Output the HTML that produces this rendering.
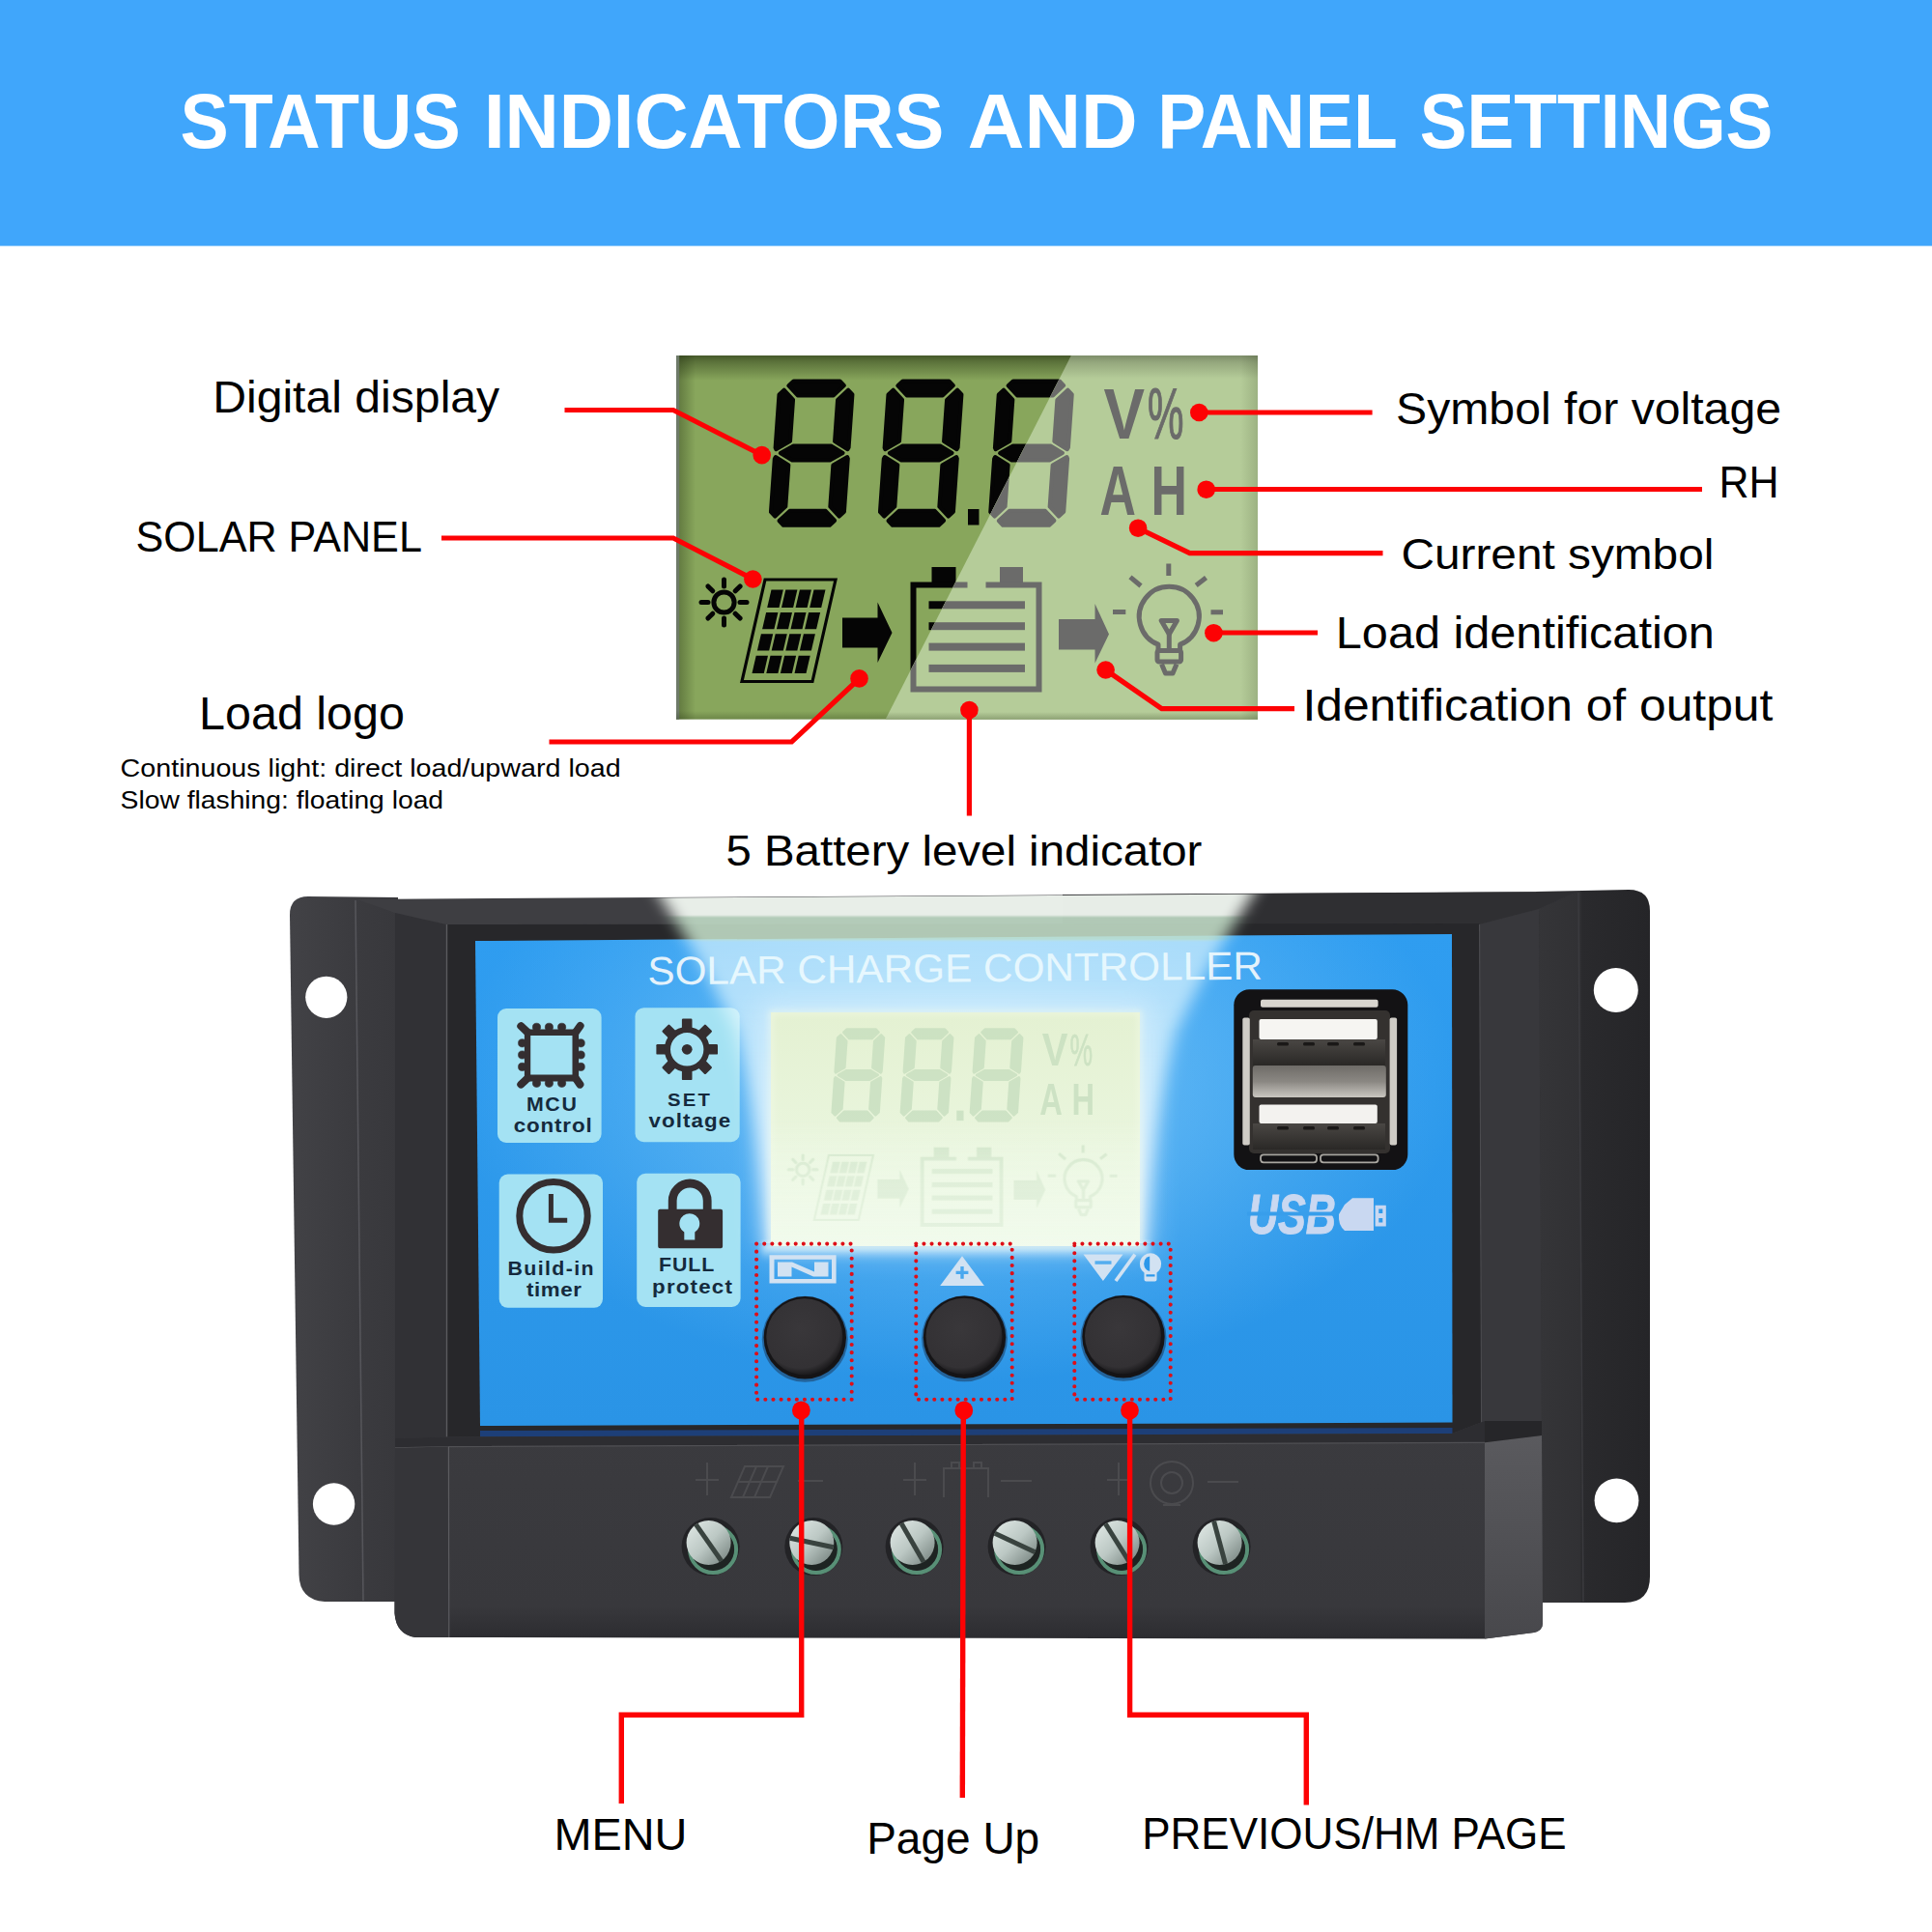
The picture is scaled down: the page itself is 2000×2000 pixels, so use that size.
<!DOCTYPE html>
<html lang="en"><head><meta charset="utf-8"><title>Status indicators and panel settings</title>
<style>html,body{margin:0;padding:0;background:#fff}body{width:2000px;height:2000px;overflow:hidden}svg{display:block}text{font-family:"Liberation Sans",sans-serif}</style>
</head><body>
<svg width="2000" height="2000" viewBox="0 0 2000 2000">
<defs>
<linearGradient id="lcdEdge" x1="0" y1="0" x2="0" y2="1"><stop offset="0" stop-color="#4f6332"/><stop offset="1" stop-color="#88a65c"/></linearGradient>
<filter id="blur8" x="-20%" y="-20%" width="140%" height="140%"><feGaussianBlur stdDeviation="8"/></filter><filter id="blurH" x="-10%" y="-5%" width="120%" height="110%"><feGaussianBlur stdDeviation="9 0.6"/></filter>
<filter id="blur14" x="-20%" y="-20%" width="140%" height="140%"><feGaussianBlur stdDeviation="14"/></filter>
<filter id="blur3" x="-20%" y="-20%" width="140%" height="140%"><feGaussianBlur stdDeviation="3"/></filter>
<clipPath id="lcdClip"><rect x="700" y="368" width="602" height="376"/></clipPath>
<clipPath id="glareClip"><polygon points="1109,368 1302,368 1302,745 916.5,745"/></clipPath>
<clipPath id="darkClip"><polygon points="700,368 1109,368 916.5,745 700,745"/></clipPath>
</defs>
<rect x="0" y="0" width="2000" height="254.600" fill="#40a6fb"/>
<text y="153.4" font-size="79.3" font-weight="bold" fill="#fff"><tspan x="186.6" textLength="290.1" lengthAdjust="spacingAndGlyphs">STATUS</tspan> <tspan x="500.9" textLength="476.6" lengthAdjust="spacingAndGlyphs">INDICATORS</tspan> <tspan x="1001.8" textLength="175.9" lengthAdjust="spacingAndGlyphs">AND</tspan> <tspan x="1198.2" textLength="247.3" lengthAdjust="spacingAndGlyphs">PANEL</tspan> <tspan x="1469.8" textLength="365.6" lengthAdjust="spacingAndGlyphs">SETTINGS</tspan></text>
<g id="biglcd">
<rect x="700" y="368" width="602" height="376.6" fill="#88a65c"/>
<defs><linearGradient id="shT" x1="0" y1="0" x2="0" y2="1"><stop offset="0" stop-color="#1d2a0c" stop-opacity="0.62"/><stop offset="0.25" stop-color="#1d2a0c" stop-opacity="0.42"/><stop offset="1" stop-color="#1d2a0c" stop-opacity="0"/></linearGradient><linearGradient id="shL" x1="0" y1="0" x2="1" y2="0"><stop offset="0" stop-color="#1d2a0c" stop-opacity="0.4"/><stop offset="1" stop-color="#1d2a0c" stop-opacity="0"/></linearGradient><linearGradient id="shR" x1="1" y1="0" x2="0" y2="0"><stop offset="0" stop-color="#1d2a0c" stop-opacity="0.16"/><stop offset="1" stop-color="#1d2a0c" stop-opacity="0"/></linearGradient><linearGradient id="shB" x1="0" y1="1" x2="0" y2="0"><stop offset="0" stop-color="#1d2a0c" stop-opacity="0.25"/><stop offset="1" stop-color="#1d2a0c" stop-opacity="0"/></linearGradient></defs>
<rect x="700" y="368" width="602" height="26" fill="url(#shT)"/>
<rect x="700" y="368" width="20" height="376.6" fill="url(#shL)"/>
<rect x="700" y="368" width="3.2" height="376.6" fill="#6e7a69"/>
<rect x="700" y="736" width="602" height="8.6" fill="url(#shB)"/>
<g clip-path="url(#darkClip)"><g><title>88.8</title><g transform="translate(840.2,469.09999999999997) skewX(-4) translate(-38.0,-74.7)" fill="#050505" stroke="#050505" stroke-width="4" stroke-linejoin="round"><polygon points="14,0 62,0 66.8,4.8 56.6,15 19.4,15 9.2,4.8"/><polygon points="76,14 71.2,9.2 61,19.4 61,62.4 75.1,70.8 76,69.0"/><polygon points="76,135.4 71.2,140.2 61,130.0 61,87.0 75.1,78.6 76,80.4"/><polygon points="14,149.4 62,149.4 66.8,144.6 56.6,134.4 19.4,134.4 9.2,144.6"/><polygon points="0,135.4 4.8,140.2 15,130.0 15,87.0 0.9,78.6 0,80.4"/><polygon points="0,14 4.8,9.2 15,19.4 15,62.4 0.9,70.8 0,69.0"/><polygon points="5.6,74.7 18.5,67.2 57.5,67.2 70.4,74.7 57.5,82.2 18.5,82.2"/></g><g transform="translate(953.2,469.09999999999997) skewX(-4) translate(-38.0,-74.7)" fill="#050505" stroke="#050505" stroke-width="4" stroke-linejoin="round"><polygon points="14,0 62,0 66.8,4.8 56.6,15 19.4,15 9.2,4.8"/><polygon points="76,14 71.2,9.2 61,19.4 61,62.4 75.1,70.8 76,69.0"/><polygon points="76,135.4 71.2,140.2 61,130.0 61,87.0 75.1,78.6 76,80.4"/><polygon points="14,149.4 62,149.4 66.8,144.6 56.6,134.4 19.4,134.4 9.2,144.6"/><polygon points="0,135.4 4.8,140.2 15,130.0 15,87.0 0.9,78.6 0,80.4"/><polygon points="0,14 4.8,9.2 15,19.4 15,62.4 0.9,70.8 0,69.0"/><polygon points="5.6,74.7 18.5,67.2 57.5,67.2 70.4,74.7 57.5,82.2 18.5,82.2"/></g><g transform="translate(1067.5,469.09999999999997) skewX(-4) translate(-38.0,-74.7)" fill="#050505" stroke="#050505" stroke-width="4" stroke-linejoin="round"><polygon points="14,0 62,0 66.8,4.8 56.6,15 19.4,15 9.2,4.8"/><polygon points="76,14 71.2,9.2 61,19.4 61,62.4 75.1,70.8 76,69.0"/><polygon points="76,135.4 71.2,140.2 61,130.0 61,87.0 75.1,78.6 76,80.4"/><polygon points="14,149.4 62,149.4 66.8,144.6 56.6,134.4 19.4,134.4 9.2,144.6"/><polygon points="0,135.4 4.8,140.2 15,130.0 15,87.0 0.9,78.6 0,80.4"/><polygon points="0,14 4.8,9.2 15,19.4 15,62.4 0.9,70.8 0,69.0"/><polygon points="5.6,74.7 18.5,67.2 57.5,67.2 70.4,74.7 57.5,82.2 18.5,82.2"/></g><rect x="1002" y="527" width="11.5" height="16.5" fill="#050505"/></g><g fill="#050505" font-weight="bold"><text x="1142.5" y="453.5" font-size="75"><tspan textLength="42.5" lengthAdjust="spacingAndGlyphs">V</tspan><tspan x="1188" font-size="74" font-weight="normal" textLength="37.5" lengthAdjust="spacingAndGlyphs" stroke="#050505" stroke-width="1.2">%</tspan></text><text transform="translate(1138.5,533.2) scale(0.72,1)" font-size="72" letter-spacing="21.5">AH</text></g><g stroke="#050505" stroke-width="5" fill="none" stroke-linecap="round"><circle cx="749.5" cy="623.5" r="10.6"/><line x1="766.0" y1="623.5" x2="773.0" y2="623.5"/><line x1="761.2" y1="635.2" x2="766.1" y2="640.1"/><line x1="749.5" y1="640.0" x2="749.5" y2="647.0"/><line x1="737.8" y1="635.2" x2="732.9" y2="640.1"/><line x1="733.0" y1="623.5" x2="726.0" y2="623.5"/><line x1="737.8" y1="611.8" x2="732.9" y2="606.9"/><line x1="749.5" y1="607.0" x2="749.5" y2="600.0"/><line x1="761.2" y1="611.8" x2="766.1" y2="606.9"/></g><polygon points="792,600 865,600 841,705.5 768,705.5" fill="none" stroke="#050505" stroke-width="3.2"/><g fill="#050505"><polygon points="798.5,610.5 810.8,610.5 806.5,629.1 794.2,629.1"/><polygon points="813.3,610.5 825.4,610.5 821.1,629.1 809.0,629.1"/><polygon points="827.9,610.5 839.9,610.5 835.6,629.1 823.6,629.1"/><polygon points="842.5,610.5 854.5,610.5 850.2,629.1 838.2,629.1"/><polygon points="793.1,633.9 805.4,633.9 801.4,651.2 789.1,651.2"/><polygon points="807.9,633.9 820.0,633.9 816.0,651.2 803.9,651.2"/><polygon points="822.5,633.9 834.5,633.9 830.5,651.2 818.5,651.2"/><polygon points="837.1,633.9 849.1,633.9 845.1,651.2 833.1,651.2"/><polygon points="787.9,656.3 800.2,656.3 796.2,673.6 783.9,673.6"/><polygon points="802.7,656.3 814.8,656.3 810.8,673.6 798.7,673.6"/><polygon points="817.3,656.3 829.3,656.3 825.3,673.6 813.3,673.6"/><polygon points="831.9,656.3 843.9,656.3 839.9,673.6 827.9,673.6"/><polygon points="782.7,678.8 795.0,678.8 790.8,697.0 778.5,697.0"/><polygon points="797.5,678.8 809.6,678.8 805.4,697.0 793.3,697.0"/><polygon points="812.1,678.8 824.1,678.8 819.9,697.0 807.9,697.0"/><polygon points="826.7,678.8 838.7,678.8 834.5,697.0 822.5,697.0"/></g><polygon points="872,639.5 908.5,639.5 908.5,623.5 923.5,655 908.5,686 908.5,670.5 872,670.5" fill="#050505"/><g fill="#050505"><rect x="964.5" y="587" width="25" height="16"/><rect x="1035" y="587" width="24" height="16"/><path d="M942.5 602.5 H1001.5 V608.5 H948.5 V710.5 H1072.5 V608.5 H1020.5 V602.5 H1078.5 V716.5 H942.5 Z"/><rect x="961.5" y="622.3" width="99.5" height="8"/><rect x="961.5" y="644.2" width="99.5" height="8"/><rect x="961.5" y="665.6" width="99.5" height="8"/><rect x="961.5" y="687.9" width="99.5" height="8"/></g><polygon points="1096,641 1133.5,641 1133.5,625 1148,656.5 1133.5,686.5 1133.5,672.5 1096,672.5" fill="#050505"/><g stroke="#050505" stroke-width="5" fill="none" stroke-linecap="butt" stroke-linejoin="round"><path d="M1199 673 V667.2 A31 31 0 1 1 1221.6 667.2 V673"/><path d="M1202.2 642.5 H1218.400 L1210.3 656.5 Z"/><line x1="1210.3" y1="656" x2="1210.3" y2="672"/><rect x="1198" y="673.5" width="24.6" height="11.5" rx="2"/><path d="M1202.500 687.5 L1206.500 697 H1214 L1218 687.5"/><line x1="1209.800" y1="583.5" x2="1209.800" y2="596"/><line x1="1170" y1="597.3" x2="1181" y2="606.5"/><line x1="1248.500" y1="598" x2="1238.200" y2="606"/><line x1="1152" y1="633.5" x2="1165.300" y2="633.5"/><line x1="1253.500" y1="633.8" x2="1266" y2="633.8"/></g></g>
<g clip-path="url(#glareClip)">
<rect x="900" y="368" width="402" height="376.6" fill="#b5cc99"/>
<defs><linearGradient id="shT2" x1="0" y1="0" x2="0" y2="1"><stop offset="0" stop-color="#59644a" stop-opacity="0.6"/><stop offset="0.3" stop-color="#59644a" stop-opacity="0.35"/><stop offset="1" stop-color="#59644a" stop-opacity="0"/></linearGradient></defs>
<rect x="900" y="368" width="402" height="24" fill="url(#shT2)"/>
<rect x="1284" y="368" width="18" height="376.6" fill="url(#shR)"/>
<rect x="900" y="737" width="402" height="7.6" fill="url(#shB)"/>
<g><title>88.8</title><g transform="translate(840.2,469.09999999999997) skewX(-4) translate(-38.0,-74.7)" fill="#6b6b6a" stroke="#6b6b6a" stroke-width="4" stroke-linejoin="round"><polygon points="14,0 62,0 66.8,4.8 56.6,15 19.4,15 9.2,4.8"/><polygon points="76,14 71.2,9.2 61,19.4 61,62.4 75.1,70.8 76,69.0"/><polygon points="76,135.4 71.2,140.2 61,130.0 61,87.0 75.1,78.6 76,80.4"/><polygon points="14,149.4 62,149.4 66.8,144.6 56.6,134.4 19.4,134.4 9.2,144.6"/><polygon points="0,135.4 4.8,140.2 15,130.0 15,87.0 0.9,78.6 0,80.4"/><polygon points="0,14 4.8,9.2 15,19.4 15,62.4 0.9,70.8 0,69.0"/><polygon points="5.6,74.7 18.5,67.2 57.5,67.2 70.4,74.7 57.5,82.2 18.5,82.2"/></g><g transform="translate(953.2,469.09999999999997) skewX(-4) translate(-38.0,-74.7)" fill="#6b6b6a" stroke="#6b6b6a" stroke-width="4" stroke-linejoin="round"><polygon points="14,0 62,0 66.8,4.8 56.6,15 19.4,15 9.2,4.8"/><polygon points="76,14 71.2,9.2 61,19.4 61,62.4 75.1,70.8 76,69.0"/><polygon points="76,135.4 71.2,140.2 61,130.0 61,87.0 75.1,78.6 76,80.4"/><polygon points="14,149.4 62,149.4 66.8,144.6 56.6,134.4 19.4,134.4 9.2,144.6"/><polygon points="0,135.4 4.8,140.2 15,130.0 15,87.0 0.9,78.6 0,80.4"/><polygon points="0,14 4.8,9.2 15,19.4 15,62.4 0.9,70.8 0,69.0"/><polygon points="5.6,74.7 18.5,67.2 57.5,67.2 70.4,74.7 57.5,82.2 18.5,82.2"/></g><g transform="translate(1067.5,469.09999999999997) skewX(-4) translate(-38.0,-74.7)" fill="#6b6b6a" stroke="#6b6b6a" stroke-width="4" stroke-linejoin="round"><polygon points="14,0 62,0 66.8,4.8 56.6,15 19.4,15 9.2,4.8"/><polygon points="76,14 71.2,9.2 61,19.4 61,62.4 75.1,70.8 76,69.0"/><polygon points="76,135.4 71.2,140.2 61,130.0 61,87.0 75.1,78.6 76,80.4"/><polygon points="14,149.4 62,149.4 66.8,144.6 56.6,134.4 19.4,134.4 9.2,144.6"/><polygon points="0,135.4 4.8,140.2 15,130.0 15,87.0 0.9,78.6 0,80.4"/><polygon points="0,14 4.8,9.2 15,19.4 15,62.4 0.9,70.8 0,69.0"/><polygon points="5.6,74.7 18.5,67.2 57.5,67.2 70.4,74.7 57.5,82.2 18.5,82.2"/></g><rect x="1002" y="527" width="11.5" height="16.5" fill="#6b6b6a"/></g><g fill="#6b6b6a" font-weight="bold"><text x="1142.5" y="453.5" font-size="75"><tspan textLength="42.5" lengthAdjust="spacingAndGlyphs">V</tspan><tspan x="1188" font-size="74" font-weight="normal" textLength="37.5" lengthAdjust="spacingAndGlyphs" stroke="#6b6b6a" stroke-width="1.2">%</tspan></text><text transform="translate(1138.5,533.2) scale(0.72,1)" font-size="72" letter-spacing="21.5">AH</text></g><g stroke="#6b6b6a" stroke-width="5" fill="none" stroke-linecap="round"><circle cx="749.5" cy="623.5" r="10.6"/><line x1="766.0" y1="623.5" x2="773.0" y2="623.5"/><line x1="761.2" y1="635.2" x2="766.1" y2="640.1"/><line x1="749.5" y1="640.0" x2="749.5" y2="647.0"/><line x1="737.8" y1="635.2" x2="732.9" y2="640.1"/><line x1="733.0" y1="623.5" x2="726.0" y2="623.5"/><line x1="737.8" y1="611.8" x2="732.9" y2="606.9"/><line x1="749.5" y1="607.0" x2="749.5" y2="600.0"/><line x1="761.2" y1="611.8" x2="766.1" y2="606.9"/></g><polygon points="792,600 865,600 841,705.5 768,705.5" fill="none" stroke="#6b6b6a" stroke-width="3.2"/><g fill="#6b6b6a"><polygon points="798.5,610.5 810.8,610.5 806.5,629.1 794.2,629.1"/><polygon points="813.3,610.5 825.4,610.5 821.1,629.1 809.0,629.1"/><polygon points="827.9,610.5 839.9,610.5 835.6,629.1 823.6,629.1"/><polygon points="842.5,610.5 854.5,610.5 850.2,629.1 838.2,629.1"/><polygon points="793.1,633.9 805.4,633.9 801.4,651.2 789.1,651.2"/><polygon points="807.9,633.9 820.0,633.9 816.0,651.2 803.9,651.2"/><polygon points="822.5,633.9 834.5,633.9 830.5,651.2 818.5,651.2"/><polygon points="837.1,633.9 849.1,633.9 845.1,651.2 833.1,651.2"/><polygon points="787.9,656.3 800.2,656.3 796.2,673.6 783.9,673.6"/><polygon points="802.7,656.3 814.8,656.3 810.8,673.6 798.7,673.6"/><polygon points="817.3,656.3 829.3,656.3 825.3,673.6 813.3,673.6"/><polygon points="831.9,656.3 843.9,656.3 839.9,673.6 827.9,673.6"/><polygon points="782.7,678.8 795.0,678.8 790.8,697.0 778.5,697.0"/><polygon points="797.5,678.8 809.6,678.8 805.4,697.0 793.3,697.0"/><polygon points="812.1,678.8 824.1,678.8 819.9,697.0 807.9,697.0"/><polygon points="826.7,678.8 838.7,678.8 834.5,697.0 822.5,697.0"/></g><polygon points="872,639.5 908.5,639.5 908.5,623.5 923.5,655 908.5,686 908.5,670.5 872,670.5" fill="#6b6b6a"/><g fill="#6b6b6a"><rect x="964.5" y="587" width="25" height="16"/><rect x="1035" y="587" width="24" height="16"/><path d="M942.5 602.5 H1001.5 V608.5 H948.5 V710.5 H1072.5 V608.5 H1020.5 V602.5 H1078.5 V716.5 H942.5 Z"/><rect x="961.5" y="622.3" width="99.5" height="8"/><rect x="961.5" y="644.2" width="99.5" height="8"/><rect x="961.5" y="665.6" width="99.5" height="8"/><rect x="961.5" y="687.9" width="99.5" height="8"/></g><polygon points="1096,641 1133.5,641 1133.5,625 1148,656.5 1133.5,686.5 1133.5,672.5 1096,672.5" fill="#6b6b6a"/><g stroke="#6b6b6a" stroke-width="5" fill="none" stroke-linecap="butt" stroke-linejoin="round"><path d="M1199 673 V667.2 A31 31 0 1 1 1221.6 667.2 V673"/><path d="M1202.2 642.5 H1218.400 L1210.3 656.5 Z"/><line x1="1210.3" y1="656" x2="1210.3" y2="672"/><rect x="1198" y="673.5" width="24.6" height="11.5" rx="2"/><path d="M1202.500 687.5 L1206.500 697 H1214 L1218 687.5"/><line x1="1209.800" y1="583.5" x2="1209.800" y2="596"/><line x1="1170" y1="597.3" x2="1181" y2="606.5"/><line x1="1248.500" y1="598" x2="1238.200" y2="606"/><line x1="1152" y1="633.5" x2="1165.300" y2="633.5"/><line x1="1253.500" y1="633.8" x2="1266" y2="633.8"/></g>
</g>
</g>
<g fill="none" stroke="#fd0204" stroke-width="5.2" stroke-linejoin="miter">
<polyline points="584.5,424.5 697,424.5 788.5,471"/>
<polyline points="457,557 697,557 779.5,599.5"/>
<polyline points="568.5,768 819.5,768 889.5,702.5"/>
<polyline points="1003.4,735 1003.4,844.5"/>
<polyline points="1241.3,427 1420.6,427"/>
<polyline points="1248.7,506.5 1762,506.5"/>
<polyline points="1178,546.7 1231.6,572.7 1431.5,572.7"/>
<polyline points="1256.4,655 1364,655"/>
<polyline points="1144.6,693.5 1202.6,733.6 1340,733.6"/>
</g>
<g fill="#fd0204">
<circle cx="788.7" cy="471.1" r="9.3"/>
<circle cx="779.4" cy="599.5" r="9.3"/>
<circle cx="889.5" cy="702.4" r="9.3"/>
<circle cx="1003.4" cy="735" r="9.3"/>
<circle cx="1241.3" cy="427" r="9.3"/>
<circle cx="1248.7" cy="506.7" r="9.3"/>
<circle cx="1178.1" cy="546.7" r="9.3"/>
<circle cx="1256.4" cy="655.2" r="9.3"/>
<circle cx="1144.6" cy="693.5" r="9.3"/>
</g>
<text x="220.2" y="427" font-size="47" textLength="297" lengthAdjust="spacingAndGlyphs">Digital display</text>
<text x="140.4" y="570.8" font-size="44" textLength="296.5" lengthAdjust="spacingAndGlyphs">SOLAR PANEL</text>
<text x="206" y="755" font-size="47.5" textLength="213" lengthAdjust="spacingAndGlyphs">Load logo</text>
<text x="124.6" y="803.5" font-size="26" textLength="518" lengthAdjust="spacingAndGlyphs">Continuous light: direct load/upward load</text>
<text x="124.6" y="837.2" font-size="26" textLength="334.5" lengthAdjust="spacingAndGlyphs">Slow flashing: floating load</text>
<text x="751.4" y="896.4" font-size="45" textLength="493" lengthAdjust="spacingAndGlyphs">5 Battery level indicator</text>
<text x="1445" y="439" font-size="46.5" textLength="399" lengthAdjust="spacingAndGlyphs">Symbol for voltage</text>
<text x="1779.4" y="515.4" font-size="45.5" textLength="62" lengthAdjust="spacingAndGlyphs">RH</text>
<text x="1450.4" y="589.2" font-size="44.5" textLength="324" lengthAdjust="spacingAndGlyphs">Current symbol</text>
<text x="1382.8" y="670.7" font-size="46" textLength="392" lengthAdjust="spacingAndGlyphs">Load identification</text>
<text x="1348.4" y="745.5" font-size="46" textLength="487" lengthAdjust="spacingAndGlyphs">Identification of output</text>
<text x="573.4" y="1915.3" font-size="47" textLength="138" lengthAdjust="spacingAndGlyphs">MENU</text>
<text x="897.2" y="1918.8" font-size="46" textLength="179" lengthAdjust="spacingAndGlyphs">Page Up</text>
<text x="1182.2" y="1914" font-size="47" textLength="439.5" lengthAdjust="spacingAndGlyphs">PREVIOUS/HM PAGE</text>
<defs>
<linearGradient id="flL" x1="0" y1="0" x2="1" y2="0"><stop offset="0" stop-color="#424246"/><stop offset="0.6" stop-color="#3b3b3f"/><stop offset="1" stop-color="#38383c"/></linearGradient>
<linearGradient id="flR" x1="0" y1="0" x2="1" y2="0"><stop offset="0" stop-color="#353538"/><stop offset="0.385" stop-color="#313134"/><stop offset="0.405" stop-color="#2a2a2d"/><stop offset="1" stop-color="#252528"/></linearGradient>
<linearGradient id="blueG" x1="0" y1="0" x2="0" y2="1"><stop offset="0" stop-color="#2f9df0"/><stop offset="1" stop-color="#2a94e6"/></linearGradient>
<linearGradient id="blockG" x1="0" y1="0" x2="0" y2="1"><stop offset="0" stop-color="#3b3b3f"/><stop offset="0.85" stop-color="#38383c"/><stop offset="1" stop-color="#2c2c30"/></linearGradient>
<linearGradient id="coneG" gradientUnits="userSpaceOnUse" x1="0" y1="916" x2="0" y2="1290"><stop offset="0" stop-color="#eff5ef" stop-opacity="0.96"/><stop offset="0.083" stop-color="#eff5ef" stop-opacity="0.96"/><stop offset="0.091" stop-color="#c8e4cd" stop-opacity="0.85"/><stop offset="0.150" stop-color="#c8e4cd" stop-opacity="0.85"/><stop offset="0.158" stop-color="#e6faff" stop-opacity="0.62"/><stop offset="0.45" stop-color="#ebfcff" stop-opacity="0.66"/><stop offset="1" stop-color="#f6fdff" stop-opacity="0.88"/></linearGradient>
<radialGradient id="btnG" cx="0.45" cy="0.4" r="0.6"><stop offset="0" stop-color="#39373a"/><stop offset="0.85" stop-color="#333134"/><stop offset="1" stop-color="#1c1b1d"/></radialGradient>
<clipPath id="faceClip"><polygon points="492,974 1503,967 1503.5,1472.6 497,1476"/></clipPath>
<clipPath id="devClip"><polygon points="300,931.5 369,931.5 1633,923.5 1710,923.5 1710,1700 300,1700"/></clipPath>
</defs>
<g id="device">
<path d="M300 947 Q300 928 319 928 L412 929 L412 1658 L336 1658 Q310 1656 309.5 1630 Z" fill="url(#flL)"/>
<path d="M1590 923 L1686 921 Q1708 921 1708 943 L1708 1632 Q1708 1659 1682 1659 L1590 1659 Z" fill="url(#flR)"/>
<line x1="368" y1="932" x2="376" y2="1657" stroke="#55555a" stroke-width="1.6"/>
<line x1="1634" y1="924" x2="1639" y2="1658" stroke="#3a3a3e" stroke-width="1.6"/>
<polygon points="409,945 1593,938 1596,1492 409,1494" fill="#313135"/>
<polygon points="1531,956 1593,940 1596,1480 1533,1482" fill="#38383c"/><line x1="1531.5" y1="957" x2="1533.5" y2="1482" stroke="#4c4c50" stroke-width="1.3"/>
<polygon points="369,931 1633,923 1593,941 1531,957 462,957 409,945" fill="#3e3e42"/>
<polygon points="1100,926 1633,923 1593,941 1531,957 1100,957" fill="#2f2f32"/>
<polygon points="462,957 1531,956 1533,1484 462,1488" fill="#27272a"/>
<line x1="462.5" y1="957" x2="462.5" y2="1488" stroke="#5a5a5e" stroke-width="1.4"/>
<polygon points="492,974 1503,967 1503.5,1472.6 497,1476" fill="url(#blueG)"/>
<defs><radialGradient id="faceHi" cx="990" cy="1120" r="520" gradientUnits="userSpaceOnUse" gradientTransform="translate(0,448) scale(1,0.6)"><stop offset="0" stop-color="#bfeaff" stop-opacity="0.55"/><stop offset="0.55" stop-color="#9fdcff" stop-opacity="0.28"/><stop offset="1" stop-color="#8fd4ff" stop-opacity="0"/></radialGradient></defs>
<polygon points="492,974 1503,967 1503.5,1472.6 497,1476" fill="url(#faceHi)"/>
<polygon points="497,1481 1503.5,1478 1503.5,1489 497,1493" fill="#1d3f78"/>
<path d="M409 1489 L462 1487.5 L1503 1484 L1537 1471 L1596 1471 L1597 1680 Q1597 1688 1588 1690 L1537 1696.5 L430 1695 Q410 1692 408.5 1670 Z" fill="url(#blockG)"/>
<polygon points="409,1489 462,1487.5 1503,1484 1537,1471 1596,1471 1596,1486 1537,1493.3 464,1497.6 409,1499" fill="#2d2d31"/><polyline points="409,1499 464,1497.6 1537,1493.3 1596,1486" fill="none" stroke="#505054" stroke-width="1.4"/>
<defs><linearGradient id="blkR" x1="0" y1="0" x2="0" y2="1"><stop offset="0" stop-color="#5a5a5e"/><stop offset="1" stop-color="#48484c"/></linearGradient></defs><path d="M1537 1493.3 L1596 1486 L1597 1680 Q1597 1688 1588 1690 L1537 1696.5 Z" fill="url(#blkR)"/><polygon points="1537,1471 1596,1471 1596,1486 1537,1493.3" fill="#262629"/>
<path d="M409 1499 L464 1497.6 L464.8 1695 L430 1695 Q410 1692 408.5 1670 Z" fill="#353539"/><line x1="464.4" y1="1498" x2="464.8" y2="1695" stroke="#5c5c60" stroke-width="1.2"/>
<circle cx="337.8" cy="1032.3" r="21.6" fill="#fff"/>
<circle cx="345.6" cy="1557" r="21.7" fill="#fff"/>
<circle cx="1672.8" cy="1024.9" r="23" fill="#fff"/>
<circle cx="1673.5" cy="1553.3" r="22.9" fill="#fff"/>
</g>
<g id="face">
<g transform="rotate(-0.5 671 1019.2)"><text x="670.5" y="1019.2" font-size="41" textLength="636.5" lengthAdjust="spacingAndGlyphs" fill="#e4f2fb">SOLAR CHARGE CONTROLLER</text></g>
<rect x="515" y="1044" width="107.6" height="139.0" rx="9" fill="#a4e2f3"/>
<rect x="657.5" y="1043.2" width="108.2" height="139.0" rx="9" fill="#a4e2f3"/>
<rect x="516.7" y="1215.6" width="107.3" height="138.2" rx="9" fill="#a4e2f3"/>
<rect x="659.2" y="1214.8" width="107.4" height="138.1" rx="9" fill="#a4e2f3"/>
<g fill="#342e30" stroke="#342e30">
<path stroke="none" fill-rule="evenodd" d="M542.9 1065.4 H599.1 V1119.4 H542.9 Z M549.2 1071.9 V1112.4 H592.5 V1071.9 Z"/>
<circle cx="555.5" cy="1063.3" r="4.1" stroke-width="0.6"/><circle cx="555.5" cy="1121.3" r="4.1" stroke-width="0.6"/>
<circle cx="568.4" cy="1063.3" r="4.1" stroke-width="0.6"/><circle cx="568.4" cy="1121.3" r="4.1" stroke-width="0.6"/>
<circle cx="581.6" cy="1063.3" r="4.1" stroke-width="0.6"/><circle cx="581.6" cy="1121.3" r="4.1" stroke-width="0.6"/>
<circle cx="540.6" cy="1079.8" r="4.1" stroke-width="0.6"/><circle cx="601.2" cy="1079.8" r="4.1" stroke-width="0.6"/>
<circle cx="540.6" cy="1092" r="4.1" stroke-width="0.6"/><circle cx="601.2" cy="1092" r="4.1" stroke-width="0.6"/>
<circle cx="540.6" cy="1104.4" r="4.1" stroke-width="0.6"/><circle cx="601.2" cy="1104.4" r="4.1" stroke-width="0.6"/>
<line x1="546" y1="1068.5" x2="539.3" y2="1062.2" stroke-width="8" stroke-linecap="round"/>
<line x1="596" y1="1068.5" x2="600.6" y2="1062" stroke-width="8" stroke-linecap="round"/>
<line x1="546" y1="1116.3" x2="539.3" y2="1122.6" stroke-width="8" stroke-linecap="round"/>
<line x1="596" y1="1116.3" x2="600.4" y2="1122.6" stroke-width="8" stroke-linecap="round"/>
</g>
<g font-weight="bold" fill="#152a3d">
<text transform="translate(544.9,1149.7) scale(1.09,1)" font-size="19.6" textLength="47.7" lengthAdjust="spacing">MCU</text>
<text transform="translate(531.7,1171.6) scale(1.09,1)" font-size="20.5" textLength="74.3" lengthAdjust="spacing">control</text>
<text transform="translate(690.9,1145.3) scale(1.09,1)" font-size="18.6" textLength="40.4" lengthAdjust="spacing">SET</text>
<text transform="translate(671.6,1167.3) scale(1.09,1)" font-size="20.5" textLength="77.5" lengthAdjust="spacing">voltage</text>
<text transform="translate(525.5,1320.3) scale(1.09,1)" font-size="19.6" textLength="81.7" lengthAdjust="spacing">Build-in</text>
<text transform="translate(544.9,1342.3) scale(1.09,1)" font-size="20.5" textLength="52.3" lengthAdjust="spacing">timer</text>
<text transform="translate(682.1,1316) scale(1.09,1)" font-size="19.6" textLength="52.5" lengthAdjust="spacing">FULL</text>
<text transform="translate(675.1,1338.8) scale(1.09,1)" font-size="20.5" textLength="75.9" lengthAdjust="spacing">protect</text>
</g>
<g fill="#342e30">
<rect x="705.9000000000001" y="1054.5" width="10.6" height="11" rx="1.2" transform="rotate(0 711.2 1086.3)"/>
<rect x="705.9000000000001" y="1054.5" width="10.6" height="11" rx="1.2" transform="rotate(45 711.2 1086.3)"/>
<rect x="705.9000000000001" y="1054.5" width="10.6" height="11" rx="1.2" transform="rotate(90 711.2 1086.3)"/>
<rect x="705.9000000000001" y="1054.5" width="10.6" height="11" rx="1.2" transform="rotate(135 711.2 1086.3)"/>
<rect x="705.9000000000001" y="1054.5" width="10.6" height="11" rx="1.2" transform="rotate(180 711.2 1086.3)"/>
<rect x="705.9000000000001" y="1054.5" width="10.6" height="11" rx="1.2" transform="rotate(225 711.2 1086.3)"/>
<rect x="705.9000000000001" y="1054.5" width="10.6" height="11" rx="1.2" transform="rotate(270 711.2 1086.3)"/>
<rect x="705.9000000000001" y="1054.5" width="10.6" height="11" rx="1.2" transform="rotate(315 711.2 1086.3)"/>
<path fill-rule="evenodd" d="M687.8000000000001 1086.3 a23.4 23.4 0 1 0 46.8 0 a23.4 23.4 0 1 0 -46.8 0 Z M694.0 1086.3 a17.2 17.2 0 1 1 34.4 0 a17.2 17.2 0 1 1 -34.4 0 Z"/>
<circle cx="711.2" cy="1086.3" r="5.4"/>
</g>
<circle cx="573" cy="1258.8" r="35.2" fill="none" stroke="#342e30" stroke-width="7"/>
<polyline points="570.4,1236 570.4,1263.2 587.2,1263.2" fill="none" stroke="#342e30" stroke-width="5"/>
<path d="M696.2 1254 V1243 a18 18 0 0 1 36 0 V1254" fill="none" stroke="#342e30" stroke-width="8.8"/>
<path fill="#342e30" fill-rule="evenodd" d="M683.2 1251.7 H746.1 a2 2 0 0 1 2 2 V1290.2 a2 2 0 0 1 -2 2 H683.2 a2 2 0 0 1 -2 -2 V1253.7 a2 2 0 0 1 2 -2 Z M713.8 1256.2 a10.5 10.5 0 0 0 -5.5 19.4 V1283.4 H719.3 V1275.6 a10.5 10.5 0 0 0 -5.5 -19.4 Z"/>
</g>
<g id="glow" clip-path="url(#devClip)">
<path d="M676,916 L701,956 Q735,1010 761,1068 Q784,1140 794,1287 L1185,1287 Q1195,1140 1218,1068 Q1244,1010 1278,956 L1303,916 Z" fill="url(#coneG)" filter="url(#blurH)"/>
<rect x="786" y="1036" width="408" height="262" rx="10" fill="#fff" opacity="0.3" filter="url(#blur14)"/>
<defs><linearGradient id="lcdBot" x1="0" y1="0" x2="0" y2="1"><stop offset="0" stop-color="#effbff" stop-opacity="0.85"/><stop offset="1" stop-color="#effbff" stop-opacity="0"/></linearGradient></defs>
<rect x="788" y="1287" width="402" height="17" fill="url(#lcdBot)" filter="url(#blur3)"/>
</g>
<defs><linearGradient id="slcdG" x1="0" y1="0" x2="0" y2="1"><stop offset="0" stop-color="#e4f1d2"/><stop offset="0.5" stop-color="#e9f5dc"/><stop offset="1" stop-color="#f0faea"/></linearGradient><linearGradient id="slcdFade" x1="0" y1="0" x2="0" y2="1"><stop offset="0" stop-color="#f0faea" stop-opacity="0"/><stop offset="0.45" stop-color="#f0faea" stop-opacity="0"/><stop offset="0.7" stop-color="#f0faea" stop-opacity="0.5"/><stop offset="1" stop-color="#f2fbee" stop-opacity="0.6"/></linearGradient></defs>
<rect x="798" y="1048" width="382" height="242" fill="url(#slcdG)"/>
<rect x="798" y="1048" width="382" height="242" fill="none" stroke="#f4fbea" stroke-width="2.5" filter="url(#blur3)"/>
<g transform="translate(800,1049) scale(0.630,0.634) translate(-700,-368.3)" opacity="0.66"><g><title>88.8</title><g transform="translate(840.2,469.09999999999997) skewX(-4) translate(-38.0,-74.7)" fill="#c0dab9" stroke="#c0dab9" stroke-width="4" stroke-linejoin="round"><polygon points="14,0 62,0 66.8,4.8 56.6,15 19.4,15 9.2,4.8"/><polygon points="76,14 71.2,9.2 61,19.4 61,62.4 75.1,70.8 76,69.0"/><polygon points="76,135.4 71.2,140.2 61,130.0 61,87.0 75.1,78.6 76,80.4"/><polygon points="14,149.4 62,149.4 66.8,144.6 56.6,134.4 19.4,134.4 9.2,144.6"/><polygon points="0,135.4 4.8,140.2 15,130.0 15,87.0 0.9,78.6 0,80.4"/><polygon points="0,14 4.8,9.2 15,19.4 15,62.4 0.9,70.8 0,69.0"/><polygon points="5.6,74.7 18.5,67.2 57.5,67.2 70.4,74.7 57.5,82.2 18.5,82.2"/></g><g transform="translate(953.2,469.09999999999997) skewX(-4) translate(-38.0,-74.7)" fill="#c0dab9" stroke="#c0dab9" stroke-width="4" stroke-linejoin="round"><polygon points="14,0 62,0 66.8,4.8 56.6,15 19.4,15 9.2,4.8"/><polygon points="76,14 71.2,9.2 61,19.4 61,62.4 75.1,70.8 76,69.0"/><polygon points="76,135.4 71.2,140.2 61,130.0 61,87.0 75.1,78.6 76,80.4"/><polygon points="14,149.4 62,149.4 66.8,144.6 56.6,134.4 19.4,134.4 9.2,144.6"/><polygon points="0,135.4 4.8,140.2 15,130.0 15,87.0 0.9,78.6 0,80.4"/><polygon points="0,14 4.8,9.2 15,19.4 15,62.4 0.9,70.8 0,69.0"/><polygon points="5.6,74.7 18.5,67.2 57.5,67.2 70.4,74.7 57.5,82.2 18.5,82.2"/></g><g transform="translate(1067.5,469.09999999999997) skewX(-4) translate(-38.0,-74.7)" fill="#c0dab9" stroke="#c0dab9" stroke-width="4" stroke-linejoin="round"><polygon points="14,0 62,0 66.8,4.8 56.6,15 19.4,15 9.2,4.8"/><polygon points="76,14 71.2,9.2 61,19.4 61,62.4 75.1,70.8 76,69.0"/><polygon points="76,135.4 71.2,140.2 61,130.0 61,87.0 75.1,78.6 76,80.4"/><polygon points="14,149.4 62,149.4 66.8,144.6 56.6,134.4 19.4,134.4 9.2,144.6"/><polygon points="0,135.4 4.8,140.2 15,130.0 15,87.0 0.9,78.6 0,80.4"/><polygon points="0,14 4.8,9.2 15,19.4 15,62.4 0.9,70.8 0,69.0"/><polygon points="5.6,74.7 18.5,67.2 57.5,67.2 70.4,74.7 57.5,82.2 18.5,82.2"/></g><rect x="1002" y="527" width="11.5" height="16.5" fill="#c0dab9"/></g><g fill="#c0dab9" font-weight="bold"><text x="1142.5" y="453.5" font-size="75"><tspan textLength="42.5" lengthAdjust="spacingAndGlyphs">V</tspan><tspan x="1188" font-size="74" font-weight="normal" textLength="37.5" lengthAdjust="spacingAndGlyphs" stroke="#c0dab9" stroke-width="1.2">%</tspan></text><text transform="translate(1138.5,533.2) scale(0.72,1)" font-size="72" letter-spacing="21.5">AH</text></g><g stroke="#c0dab9" stroke-width="5" fill="none" stroke-linecap="round"><circle cx="749.5" cy="623.5" r="10.6"/><line x1="766.0" y1="623.5" x2="773.0" y2="623.5"/><line x1="761.2" y1="635.2" x2="766.1" y2="640.1"/><line x1="749.5" y1="640.0" x2="749.5" y2="647.0"/><line x1="737.8" y1="635.2" x2="732.9" y2="640.1"/><line x1="733.0" y1="623.5" x2="726.0" y2="623.5"/><line x1="737.8" y1="611.8" x2="732.9" y2="606.9"/><line x1="749.5" y1="607.0" x2="749.5" y2="600.0"/><line x1="761.2" y1="611.8" x2="766.1" y2="606.9"/></g><polygon points="792,600 865,600 841,705.5 768,705.5" fill="none" stroke="#c0dab9" stroke-width="3.2"/><g fill="#c0dab9"><polygon points="798.5,610.5 810.8,610.5 806.5,629.1 794.2,629.1"/><polygon points="813.3,610.5 825.4,610.5 821.1,629.1 809.0,629.1"/><polygon points="827.9,610.5 839.9,610.5 835.6,629.1 823.6,629.1"/><polygon points="842.5,610.5 854.5,610.5 850.2,629.1 838.2,629.1"/><polygon points="793.1,633.9 805.4,633.9 801.4,651.2 789.1,651.2"/><polygon points="807.9,633.9 820.0,633.9 816.0,651.2 803.9,651.2"/><polygon points="822.5,633.9 834.5,633.9 830.5,651.2 818.5,651.2"/><polygon points="837.1,633.9 849.1,633.9 845.1,651.2 833.1,651.2"/><polygon points="787.9,656.3 800.2,656.3 796.2,673.6 783.9,673.6"/><polygon points="802.7,656.3 814.8,656.3 810.8,673.6 798.7,673.6"/><polygon points="817.3,656.3 829.3,656.3 825.3,673.6 813.3,673.6"/><polygon points="831.9,656.3 843.9,656.3 839.9,673.6 827.9,673.6"/><polygon points="782.7,678.8 795.0,678.8 790.8,697.0 778.5,697.0"/><polygon points="797.5,678.8 809.6,678.8 805.4,697.0 793.3,697.0"/><polygon points="812.1,678.8 824.1,678.8 819.9,697.0 807.9,697.0"/><polygon points="826.7,678.8 838.7,678.8 834.5,697.0 822.5,697.0"/></g><polygon points="872,639.5 908.5,639.5 908.5,623.5 923.5,655 908.5,686 908.5,670.5 872,670.5" fill="#c0dab9"/><g fill="#c0dab9"><rect x="964.5" y="587" width="25" height="16"/><rect x="1035" y="587" width="24" height="16"/><path d="M942.5 602.5 H1001.5 V608.5 H948.5 V710.5 H1072.5 V608.5 H1020.5 V602.5 H1078.5 V716.5 H942.5 Z"/><rect x="961.5" y="622.3" width="99.5" height="8"/><rect x="961.5" y="644.2" width="99.5" height="8"/><rect x="961.5" y="665.6" width="99.5" height="8"/><rect x="961.5" y="687.9" width="99.5" height="8"/></g><polygon points="1096,641 1133.5,641 1133.5,625 1148,656.5 1133.5,686.5 1133.5,672.5 1096,672.5" fill="#c0dab9"/><g stroke="#c0dab9" stroke-width="5" fill="none" stroke-linecap="butt" stroke-linejoin="round"><path d="M1199 673 V667.2 A31 31 0 1 1 1221.6 667.2 V673"/><path d="M1202.2 642.5 H1218.400 L1210.3 656.5 Z"/><line x1="1210.3" y1="656" x2="1210.3" y2="672"/><rect x="1198" y="673.5" width="24.6" height="11.5" rx="2"/><path d="M1202.500 687.5 L1206.500 697 H1214 L1218 687.5"/><line x1="1209.800" y1="583.5" x2="1209.800" y2="596"/><line x1="1170" y1="597.3" x2="1181" y2="606.5"/><line x1="1248.500" y1="598" x2="1238.200" y2="606"/><line x1="1152" y1="633.5" x2="1165.300" y2="633.5"/><line x1="1253.500" y1="633.8" x2="1266" y2="633.8"/></g></g>
<rect x="798" y="1048" width="382" height="242" fill="url(#slcdFade)"/>
<g id="usb">
<rect x="1277.3" y="1024.3" width="180" height="186.8" rx="16" fill="#131214"/>
<defs><linearGradient id="metalV" x1="0" y1="0" x2="0" y2="1"><stop offset="0" stop-color="#6f6c68"/><stop offset="0.5" stop-color="#8a8782"/><stop offset="1" stop-color="#c9c6c0"/></linearGradient>
<linearGradient id="darkV" x1="0" y1="0" x2="0" y2="1"><stop offset="0" stop-color="#4a4744"/><stop offset="1" stop-color="#2a2826"/></linearGradient></defs>
<rect x="1293" y="1046" width="146" height="148" rx="5" fill="#34312f"/>
<rect x="1305" y="1034.8" width="121.6" height="8" rx="2" fill="#d8d5cf"/>
<rect x="1286.3" y="1053.500" width="7.5" height="132" rx="2" fill="#cfccc6"/>
<rect x="1438.6" y="1053.500" width="7.5" height="132" rx="2" fill="#cfccc6"/>
<rect x="1303.5" y="1055" width="122.3" height="21" rx="2" fill="#f6f5f2"/>
<rect x="1297" y="1076" width="137" height="27" fill="url(#darkV)"/>
<rect x="1296.8" y="1103" width="138" height="33" rx="3" fill="url(#metalV)"/>
<rect x="1303.5" y="1143.6" width="122.3" height="19.5" rx="2" fill="#f3f2ef"/>
<rect x="1297" y="1163" width="137" height="27" fill="url(#darkV)"/>
<rect x="1305" y="1195.3" width="58" height="8" rx="3" fill="none" stroke="#a9a6a0" stroke-width="1.8"/>
<rect x="1367" y="1195.3" width="59.6" height="8" rx="3" fill="none" stroke="#a9a6a0" stroke-width="1.8"/>
<rect x="1322" y="1079" width="12" height="3.5" rx="1.5" fill="#1a1817"/>
<rect x="1349" y="1079" width="12" height="3.5" rx="1.5" fill="#1a1817"/>
<rect x="1374" y="1079" width="12" height="3.5" rx="1.5" fill="#1a1817"/>
<rect x="1401" y="1079" width="12" height="3.5" rx="1.5" fill="#1a1817"/>
<rect x="1322" y="1166" width="12" height="3.5" rx="1.5" fill="#1a1817"/>
<rect x="1349" y="1166" width="12" height="3.5" rx="1.5" fill="#1a1817"/>
<rect x="1374" y="1166" width="12" height="3.5" rx="1.5" fill="#1a1817"/>
<rect x="1401" y="1166" width="12" height="3.5" rx="1.5" fill="#1a1817"/>
<g fill="#c9d8f1">
<text x="1292" y="1276.5" font-size="57" font-weight="bold" font-style="italic" textLength="91" lengthAdjust="spacingAndGlyphs" stroke="#c9d8f1" stroke-width="1">USB</text>
<path d="M1392 1247 L1400 1240.3 H1422 V1274 H1392 Q1385 1268 1386 1257 Z"/>
<path fill-rule="evenodd" d="M1423.6 1247.800 H1434.8 V1269.6 H1423.6 Z M1427.3 1251.5 V1256 H1431.3 V1251.5 Z M1427.3 1261 V1265.5 H1431.3 V1261 Z"/>
</g>
<rect x="1291" y="1254.500" width="92" height="4" fill="#389eeb"/>
</g>
<g id="btnicons">
<path fill="#d2e2f2" fill-rule="evenodd" d="M796.500 1299.300 H865.6 V1328.400 H796.500 Z M801.500 1303.800 V1324 H861 V1303.800 Z"/>
<path fill="#d2e2f2" d="M805 1306.500 H820 L843 1316.500 V1306.500 H857.500 V1321.500 H842 L819.500 1311.500 V1321.500 H805 Z"/>
<path fill="#d2e2f2" fill-rule="evenodd" d="M996 1300.300 L1018.900 1330.900 H973.200 Z M994.300 1311 V1315.700 H989.600 V1319.100 H994.300 V1323.800 H997.700 V1319.100 H1002.400 V1315.700 H997.700 V1311 Z"/>
<path fill="#d2e2f2" fill-rule="evenodd" d="M1121.500 1298.600 H1162.500 L1141.900 1325.900 Z M1133.500 1305.300 V1308.700 H1150.500 V1305.300 Z"/>
<line x1="1174.900" y1="1298.600" x2="1155" y2="1326" stroke="#d2e2f2" stroke-width="3.6"/>
<path fill="#d2e2f2" d="M1191 1297.300 a11.200 11.200 0 0 1 6.500 20.300 V1324.500 a2 2 0 0 1 -2 2 H1186.500 a2 2 0 0 1 -2 -2 V1317.600 a11.200 11.200 0 0 1 6.500 -20.300 Z"/>
<path fill="#2c98ea" d="M1190.200 1300.500 a8 8 0 0 0 0 15.500 Z"/>
<rect x="1186.500" y="1319.300" width="9" height="2.200" fill="#2c98ea"/>
</g>
<circle cx="833.3" cy="1386.3" r="44.5" fill="#1b3a5c" opacity="0.55"/>
<circle cx="833.3" cy="1384.8" r="42.7" fill="#151416"/>
<circle cx="832.8" cy="1383.8" r="39.500" fill="url(#btnG)"/>
<circle cx="998.5" cy="1385.8" r="44.5" fill="#1b3a5c" opacity="0.55"/>
<circle cx="998.5" cy="1384.3" r="42.7" fill="#151416"/>
<circle cx="998.0" cy="1383.3" r="39.500" fill="url(#btnG)"/>
<circle cx="1163" cy="1385.3" r="44.5" fill="#1b3a5c" opacity="0.55"/>
<circle cx="1163" cy="1383.8" r="42.7" fill="#151416"/>
<circle cx="1162.5" cy="1382.8" r="39.500" fill="url(#btnG)"/>
<g fill="none" stroke="#de0f18" stroke-width="4.1" stroke-dasharray="0.01 8.11" stroke-linecap="round">
<rect x="783.1" y="1287.600" width="98.6" height="161.200"/>
<rect x="948.3" y="1287.600" width="99.4" height="161.200"/>
<rect x="1112.3" y="1287.600" width="99.4" height="161.200"/>
</g>
<defs><linearGradient id="scrG" x1="0" y1="0" x2="1" y2="1"><stop offset="0" stop-color="#e3ebe8"/><stop offset="0.5" stop-color="#bcc8c4"/><stop offset="1" stop-color="#6f7c78"/></linearGradient></defs>
<circle cx="735.6" cy="1601" r="30" fill="#232326"/>
<circle cx="738.1" cy="1604" r="24" fill="none" stroke="#62a385" stroke-width="4" opacity="0.85"/>
<circle cx="737.6" cy="1603.5" r="22" fill="#1e2422"/>
<circle cx="733.6" cy="1597" r="23" fill="url(#scrG)"/>
<rect x="710.6" y="1594.5" width="46" height="5" fill="#39433f" transform="rotate(55 733.6 1597)"/>
<circle cx="842.3" cy="1601" r="30" fill="#232326"/>
<circle cx="844.8" cy="1604" r="24" fill="none" stroke="#62a385" stroke-width="4" opacity="0.85"/>
<circle cx="844.3" cy="1603.5" r="22" fill="#1e2422"/>
<circle cx="840.3" cy="1597" r="23" fill="url(#scrG)"/>
<rect x="817.3" y="1594.5" width="46" height="5" fill="#39433f" transform="rotate(12 840.3 1597)"/>
<circle cx="946.6" cy="1601" r="30" fill="#232326"/>
<circle cx="949.1" cy="1604" r="24" fill="none" stroke="#62a385" stroke-width="4" opacity="0.85"/>
<circle cx="948.6" cy="1603.5" r="22" fill="#1e2422"/>
<circle cx="944.6" cy="1597" r="23" fill="url(#scrG)"/>
<rect x="921.6" y="1594.5" width="46" height="5" fill="#39433f" transform="rotate(60 944.6 1597)"/>
<circle cx="1052.6" cy="1601" r="30" fill="#232326"/>
<circle cx="1055.1" cy="1604" r="24" fill="none" stroke="#62a385" stroke-width="4" opacity="0.85"/>
<circle cx="1054.6" cy="1603.5" r="22" fill="#1e2422"/>
<circle cx="1050.6" cy="1597" r="23" fill="url(#scrG)"/>
<rect x="1027.6" y="1594.5" width="46" height="5" fill="#39433f" transform="rotate(25 1050.6 1597)"/>
<circle cx="1158.6" cy="1601" r="30" fill="#232326"/>
<circle cx="1161.1" cy="1604" r="24" fill="none" stroke="#62a385" stroke-width="4" opacity="0.85"/>
<circle cx="1160.6" cy="1603.5" r="22" fill="#1e2422"/>
<circle cx="1156.6" cy="1597" r="23" fill="url(#scrG)"/>
<rect x="1133.6" y="1594.5" width="46" height="5" fill="#39433f" transform="rotate(58 1156.6 1597)"/>
<circle cx="1264.6" cy="1601" r="30" fill="#232326"/>
<circle cx="1267.1" cy="1604" r="24" fill="none" stroke="#62a385" stroke-width="4" opacity="0.85"/>
<circle cx="1266.6" cy="1603.5" r="22" fill="#1e2422"/>
<circle cx="1262.6" cy="1597" r="23" fill="url(#scrG)"/>
<rect x="1239.6" y="1594.5" width="46" height="5" fill="#39433f" transform="rotate(75 1262.6 1597)"/>
<g stroke="#57575b" stroke-width="2" fill="none" opacity="0.6">
<line x1="732" y1="1514" x2="732" y2="1548"/><line x1="720" y1="1532" x2="744" y2="1532"/>
<line x1="947" y1="1514" x2="947" y2="1548"/><line x1="935" y1="1532" x2="959" y2="1532"/>
<line x1="1158" y1="1514" x2="1158" y2="1548"/><line x1="1146" y1="1532" x2="1170" y2="1532"/>
<path d="M757 1550 L771 1518 H811 L797 1550 Z M769 1550 L783 1518 M781 1550 L795 1518 M764 1534 H804"/>
<line x1="826" y1="1533" x2="852" y2="1533"/>
<path d="M977 1550 V1520 H1023 V1550 M985 1520 V1514 H993 V1520 M1008 1520 V1514 H1016 V1520"/>
<line x1="1036" y1="1533" x2="1068" y2="1533"/>
<circle cx="1213" cy="1535" r="22"/><circle cx="1213" cy="1535" r="11"/><path d="M1204 1558 H1222"/>
<line x1="1250" y1="1534" x2="1282" y2="1534"/>
</g>
<g fill="none" stroke="#fd0204" stroke-width="5.4" stroke-linejoin="miter">
<polyline points="829.7,1460 829.7,1775.300 643.3,1775.300 643.3,1867"/>
<polyline points="997.300,1460 996.300,1861"/>
<polyline points="1169.600,1460 1169.600,1775.300 1352.300,1775.300 1352.300,1868.600"/>
</g>
<g fill="#fd0204">
<circle cx="829.4" cy="1460" r="9.400"/>
<circle cx="997.8" cy="1460" r="9.400"/>
<circle cx="1169.5" cy="1460" r="9.400"/>
</g>
</svg>
</body></html>
